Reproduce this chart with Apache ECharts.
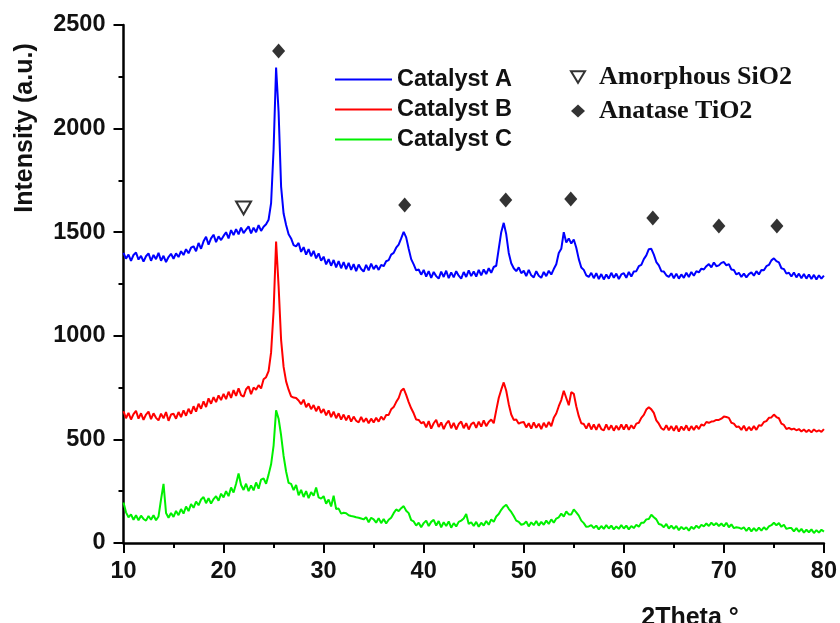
<!DOCTYPE html>
<html>
	<head>
		<meta charset="UTF-8">
		<title>XRD</title>
		<script type="text/javascript" src="https://cdn.jsdelivr.net/npm/echarts/dist/echarts.min.js"></script>
		<style>body{margin:0;background:#fff;}</style>
	</head>
	<body>
		<div id="main" style="width: 840px;height: 623px;"></div>
		<script type="text/javascript">
			// scan grid: 10..80 deg, step 0.25
			var thetaStart=10, thetaStep=0.25;

			// Catalyst A
			var catA=[
				1400,1372,1392,1362,1390,1402,1368,1386,1358,1384,1398,1362,1390,1370,1400,1362,1386,1356,1380,1396,
				1372,1398,1380,1408,1390,1418,1398,1425,1432,1408,1448,1420,1456,1478,1440,1470,1488,1452,1480,1462,
				1482,1500,1470,1510,1486,1515,1490,1522,1496,1512,1528,1494,1522,1500,1534,1506,1526,1538,1560,1640,
				1900,2295,2080,1720,1590,1535,1490,1470,1438,1432,1448,1405,1428,1392,1418,1384,1410,1374,1398,1362,
				1382,1345,1370,1338,1366,1330,1360,1326,1356,1322,1352,1318,1346,1312,1344,1322,1310,1342,1316,1348,
				1322,1340,1318,1342,1336,1360,1365,1392,1400,1425,1440,1470,1502,1475,1420,1370,1345,1316,1320,1295,
				1318,1286,1312,1280,1308,1288,1276,1310,1284,1314,1278,1306,1282,1312,1290,1276,1308,1284,1316,1288,
				1310,1286,1318,1292,1320,1298,1326,1304,1332,1338,1420,1500,1545,1490,1400,1350,1326,1312,1330,1302,
				1314,1288,1318,1292,1282,1312,1290,1280,1308,1288,1314,1296,1322,1345,1400,1420,1500,1450,1470,1445,
				1465,1425,1370,1330,1318,1292,1284,1304,1278,1302,1274,1298,1272,1296,1276,1304,1280,1300,1274,1296,
				1302,1280,1308,1286,1310,1312,1336,1342,1370,1388,1418,1420,1392,1356,1340,1312,1310,1292,1284,1302,
				1278,1300,1276,1296,1280,1304,1284,1308,1290,1312,1306,1324,1320,1336,1346,1330,1354,1336,1340,1352,
				1356,1340,1346,1320,1318,1296,1304,1284,1300,1282,1298,1306,1290,1312,1296,1318,1316,1336,1342,1364,
				1374,1360,1354,1326,1322,1300,1304,1286,1306,1282,1300,1278,1298,1276,1296,1274,1294,1272,1292,1276,
				1290
			];
			// Catalyst B
			var catB=[
				636,602,628,596,622,638,600,626,594,620,634,598,626,604,592,624,602,632,590,620,
				624,600,632,608,640,614,648,624,660,634,672,648,684,656,698,672,704,680,712,690,
				720,694,730,700,738,710,746,714,706,742,756,718,750,740,762,746,790,800,830,920,
				1120,1455,1240,980,850,780,740,708,702,700,688,670,692,656,674,646,666,636,660,628,
				646,616,640,608,634,602,626,596,620,592,616,586,610,590,582,608,584,602,578,600,
				582,604,586,610,594,618,618,645,656,680,700,735,745,715,680,650,626,596,594,578,
				584,558,588,552,578,594,560,582,550,576,590,554,580,548,574,586,554,578,548,574,
				582,556,586,562,592,564,584,596,578,640,700,740,775,735,670,620,594,596,576,582,
				584,558,578,552,582,556,576,550,580,558,584,564,604,625,660,690,735,700,665,728,
				720,660,612,578,574,552,578,548,572,546,574,550,544,572,546,568,542,566,546,572,
				548,572,546,568,552,576,580,604,618,644,655,645,628,592,576,554,546,568,544,564,
				542,566,538,562,544,568,542,564,546,566,550,572,566,584,580,586,588,594,594,600,
				610,608,604,580,576,560,562,546,566,542,560,544,564,546,568,566,584,588,604,606,
				620,608,602,576,570,550,556,548,552,544,550,538,548,536,546,534,548,538,544,536,
				550
			];
			// Catalyst C
			var catC=[
				195,148,124,138,112,134,110,132,116,108,130,112,134,110,128,210,285,145,122,145,
				126,155,134,164,142,176,154,188,170,200,182,210,222,192,216,190,212,226,204,238,
				220,250,226,268,244,286,335,280,256,286,250,278,254,292,262,306,312,286,330,380,
				470,640,600,520,420,345,290,285,255,280,230,256,222,250,216,246,228,268,220,214,
				226,190,210,176,228,164,166,142,146,144,134,130,128,124,122,118,114,124,100,122,
				114,98,120,96,116,94,112,122,144,162,154,168,178,156,144,110,104,84,98,76,
				96,108,82,102,112,84,106,76,100,82,104,74,96,80,102,108,118,140,92,100,
				82,102,78,98,84,106,88,114,102,128,140,160,175,185,165,150,130,108,102,88,
				92,104,80,100,86,106,84,102,88,108,92,114,98,118,124,142,128,152,138,138,
				162,148,132,108,96,78,80,86,72,84,66,82,68,86,70,84,66,80,68,86,
				70,84,66,82,72,88,78,98,98,114,116,136,124,114,92,88,76,92,70,84,
				68,82,62,78,66,76,60,78,68,84,72,88,80,94,82,98,86,96,82,94,
				80,98,76,90,72,76,74,68,76,58,74,56,72,58,74,60,76,64,80,86,
				98,86,96,78,88,68,72,72,56,72,54,68,50,64,52,66,48,62,50,64,
				55
			];

			// phase markers
			var sioMarkX=[22.0];
			var sioMarkY=[1617];
			var tioMarkX=[25.5,38.1,48.2,54.7,62.9,69.5,75.3];
			var tioMarkY=[2374,1631,1655,1660,1568,1530,1530];

			var xTicks={min:10,max:80,interval:10};
			var yTicks={min:0,max:2500,interval:500};

			function pairs(xs,ys){
				var out=[];
				for(var i=0;i<ys.length;i++){
					out.push([xs?xs[i]:thetaStart+i*thetaStep,ys[i]]);
				}
				return out;
			}

			var myChart=echarts.init(document.getElementById('main'));

			var sans='Liberation Sans, Arial, sans-serif';
			var serif='Liberation Serif, Times New Roman, serif';

			function axisCommon(){
				return {
					axisLine:{show:true,lineStyle:{color:'#000',width:2.5}},
					axisTick:{show:true,inside:false,length:10,lineStyle:{color:'#000',width:2}},
					minorTick:{show:true,splitNumber:2,length:5,lineStyle:{color:'#000',width:2}},
					splitLine:{show:false},
					axisLabel:{color:'#111',fontFamily:sans,fontWeight:'bold',fontSize:23.5,
						formatter:function(v){return String(v);}}
				};
			}

			var xAx=axisCommon();
			xAx.type='value';
			xAx.min=xTicks.min;xAx.max=xTicks.max;xAx.interval=xTicks.interval;
			xAx.axisLabel.margin=17;

			var yAx=axisCommon();
			yAx.type='value';
			yAx.min=yTicks.min;yAx.max=yTicks.max;yAx.interval=yTicks.interval;
			yAx.axisLabel.margin=18;

			var option={
				animation:false,
				backgroundColor:'#fff',
				grid:{left:123.5,right:16,top:25,bottom:80,containLabel:false},
				xAxis:xAx,
				yAxis:yAx,
				legend:[{
					data:['Catalyst A','Catalyst B','Catalyst C'],
					orient:'vertical',
					left:330,top:62,
					icon:'rect',
					itemWidth:57,itemHeight:2,itemGap:5,
					textStyle:{color:'#111',fontFamily:sans,fontWeight:'bold',fontSize:23.5,lineHeight:25}
				},{
					data:[
						{name:'Amorphous SiO2',icon:'path://M0,0L12,0L6,10Z',
							itemStyle:{color:'#fff',borderColor:'#000',borderWidth:2}},
						{name:'Anatase TiO2',icon:'diamond',itemStyle:{color:'#000'}}
					],
					orient:'vertical',
					left:565,top:58,
					itemWidth:14,itemHeight:13,itemGap:6,
					textStyle:{color:'#111',fontFamily:serif,fontWeight:'bold',fontSize:26,lineHeight:28,
						padding:[0,0,0,9]}
				}],
				graphic:[{
					type:'text',x:25,y:128,rotation:Math.PI/2,
					style:{text:'Intensity (a.u.)',fill:'#111',font:'bold 25px '+sans,textAlign:'center',textVerticalAlign:'middle'}
				},{
					type:'text',x:690,y:618,
					style:{text:'2Theta °',fill:'#111',font:'bold 25px '+sans,textAlign:'center',textVerticalAlign:'middle'}
				}],
				series:[{
					name:'Catalyst A',type:'line',symbol:'none',
					lineStyle:{color:'#0000ff',width:2},itemStyle:{color:'#0000ff'},
					data:pairs(null,catA)
				},{
					name:'Catalyst B',type:'line',symbol:'none',
					lineStyle:{color:'#ff0000',width:2},itemStyle:{color:'#ff0000'},
					data:pairs(null,catB)
				},{
					name:'Catalyst C',type:'line',symbol:'none',
					lineStyle:{color:'#00f000',width:2},itemStyle:{color:'#00f000'},
					data:pairs(null,catC)
				},{
					name:'Amorphous SiO2',type:'scatter',symbol:'triangle',symbolRotate:180,symbolSize:[15,13],
					itemStyle:{color:'#fff',borderColor:'#000',borderWidth:2},z:5,
					data:pairs(sioMarkX,sioMarkY)
				},{
					name:'Anatase TiO2',type:'scatter',symbol:'diamond',symbolSize:[13,15],
					itemStyle:{color:'#000'},z:5,
					data:pairs(tioMarkX,tioMarkY)
				}]
			};

			myChart.setOption(option);
		</script>
	</body>
</html>
